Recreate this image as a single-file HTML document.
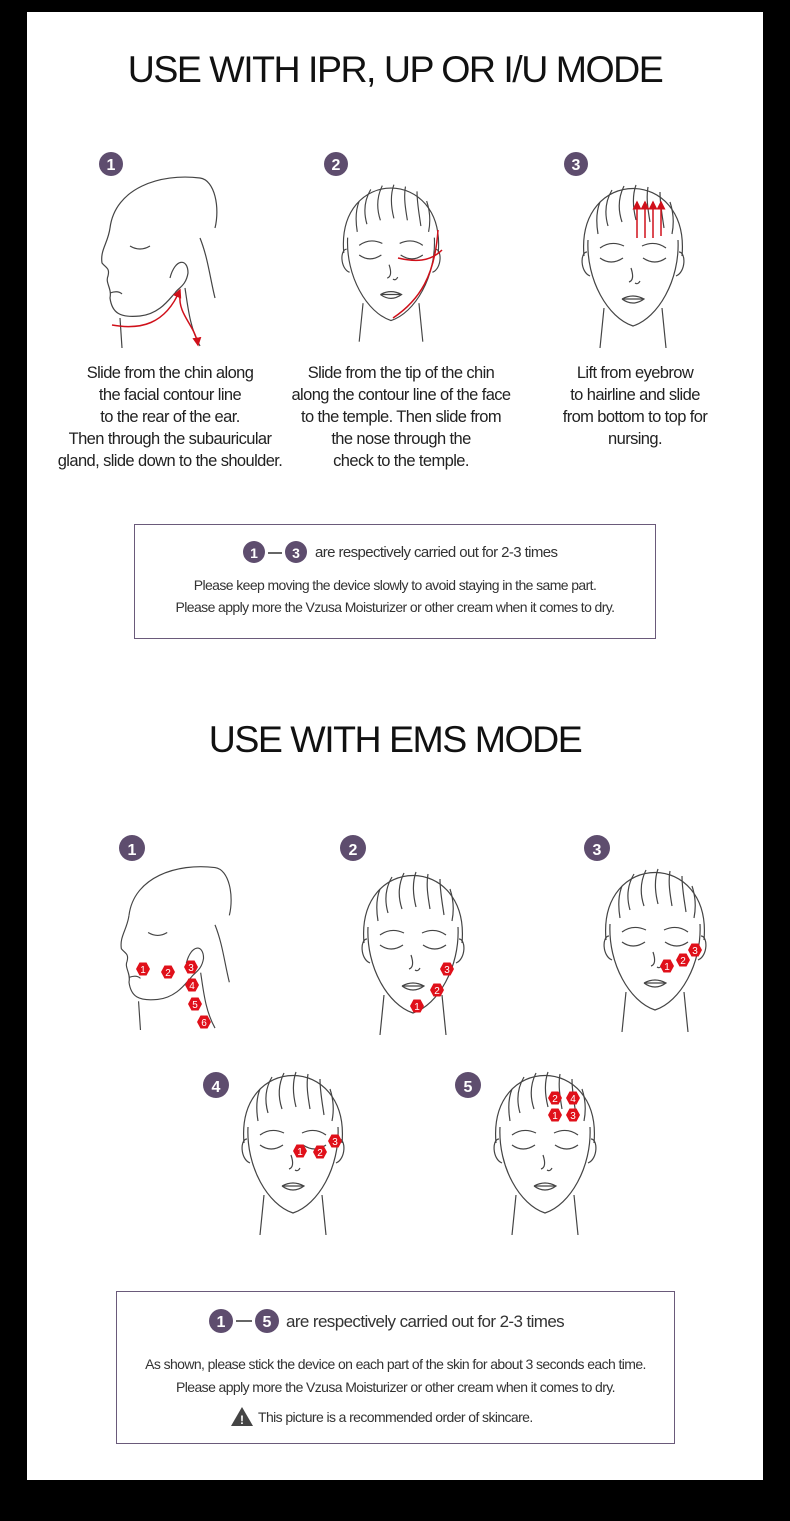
<!DOCTYPE html>
<html><head><meta charset="utf-8"><style>
body{margin:0;background:#000;width:790px;height:1521px;overflow:hidden;font-family:"Liberation Sans",sans-serif;}
#p{position:absolute;left:27px;top:12px;width:736px;height:1468px;background:#fff;}
.t{position:absolute;left:0;width:790px;text-align:center;color:#111;letter-spacing:-1.5px;font-size:37.5px;}
.c{position:absolute;text-align:center;font-size:16.5px;line-height:22px;color:#222;letter-spacing:-0.6px;width:280px;}
.box{position:absolute;border:1px solid #6a5a7a;text-align:center;color:#333;letter-spacing:-0.6px;}
svg{position:absolute;left:0;top:0}
</style></head><body>
<div id="p"></div>
<svg width="790" height="1521">
<defs>
<symbol id="face" viewBox="0 0 110 180" overflow="visible">
<g fill="none" stroke="#444" stroke-width="1.2">
<path d="M6,88 C-2,-2 112,-2 104,88"/>
<path d="M10,72 C8,112 30,150 55,158 C80,150 102,112 100,72"/>
<path d="M9,84 C2,84 2,104 12,108 M101,84 C108,84 108,104 98,108"/>
<path d="M26,140 L22,180 M84,140 L88,180"/>
<path d="M34,22 C28,32 26,44 30,58 M46,18 C40,30 40,42 44,54 M58,17 C54,28 55,40 58,52 M70,19 C68,30 70,42 72,54 M82,24 C82,36 84,46 86,60 M22,34 C18,44 18,54 20,66 M92,34 C96,46 96,56 94,66"/>
<path d="M22,90 Q33,98 45,90 M65,90 Q77,98 88,90"/>
<path d="M22,80 Q33,72 46,78 M64,78 Q77,72 88,80"/>
<path d="M53,100 Q57,112 51,114 M57,115 Q60,117 62,113"/>
<path d="M44,131 Q55,125 66,131 Q55,139 44,131 M44,131 L66,131"/>
</g>
</symbol>
<symbol id="prof" viewBox="0 0 130 180" overflow="visible">
<g fill="none" stroke="#444" stroke-width="1.2">
<path d="M20,60 C25,20 70,5 110,10 C125,12 130,40 125,60"/>
<path d="M20,60 C18,75 10,82 12,95 C16,100 20,100 18,108 C15,115 22,120 20,130 C22,145 30,150 50,148 C70,146 80,130 85,125"/>
<path d="M80,110 C85,90 98,90 98,105 C96,118 88,120 85,125"/>
<path d="M30,150 L32,180 M95,120 C98,140 100,160 110,178 M110,70 C118,90 120,110 125,130"/>
<path d="M40,78 Q50,84 60,78"/>
<path d="M20,125 Q28,122 32,126"/>
</g>
</symbol>
<g id="hx"><polygon points="-7,0 -3.5,-6.5 3.5,-6.5 7,0 3.5,6.5 -3.5,6.5" fill="#e0101a"/></g>
<marker id="ar" markerWidth="6" markerHeight="6" refX="5" refY="3" orient="auto"><path d="M0,0 L6,3 L0,6 z" fill="#d0101a"/></marker>
</defs>
<use href="#prof" x="90" y="168" width="130" height="180"/>
<use href="#face" x="338" y="165" width="106" height="180"/>
<use href="#face" x="578" y="168" width="110" height="180"/>
<g fill="none" stroke="#d0101a" stroke-width="1.5">
<path d="M112,325 C140,330 165,325 180,290" marker-end="url(#ar)"/>
<path d="M180,295 C178,315 195,325 198,345" marker-end="url(#ar)"/>
<path d="M393,318 C420,300 435,275 438,230"/>
<path d="M398,258 C415,262 430,262 442,250"/>
<path d="M637,238 L637,202" marker-end="url(#ar)"/><path d="M645,238 L645,202" marker-end="url(#ar)"/><path d="M653,238 L653,202" marker-end="url(#ar)"/><path d="M661,236 L661,202" marker-end="url(#ar)"/>
</g>
<g fill="#5e4d6e"><circle cx="111" cy="164" r="12"/><circle cx="336" cy="164" r="12"/><circle cx="576" cy="164" r="12"/>
<circle cx="132" cy="848" r="13"/><circle cx="353" cy="848" r="13"/><circle cx="597" cy="848" r="13"/><circle cx="216" cy="1085" r="13"/><circle cx="468" cy="1085" r="13"/>
<circle cx="254" cy="552" r="11"/><circle cx="296" cy="552" r="11"/><circle cx="221" cy="1321" r="12"/><circle cx="267" cy="1321" r="12"/></g>
<g fill="#fff" font-size="16" font-weight="bold" text-anchor="middle" font-family="Liberation Sans,sans-serif">
<text x="111" y="170">1</text><text x="336" y="170">2</text><text x="576" y="170">3</text>
<text x="132" y="855">1</text><text x="353" y="855">2</text><text x="597" y="855">3</text><text x="216" y="1092">4</text><text x="468" y="1092">5</text>
<text x="254" y="558" font-size="14">1</text><text x="296" y="558" font-size="14">3</text><text x="221" y="1327">1</text><text x="267" y="1327">5</text>
</g>
<g stroke="#333" stroke-width="1.5"><line x1="268" y1="553" x2="282" y2="553"/><line x1="236" y1="1321" x2="252" y2="1321"/></g>
<use href="#prof" x="108" y="858" width="128" height="172"/>
<use href="#face" x="358" y="855" width="110" height="180"/>
<use href="#face" x="600" y="852" width="110" height="180"/>
<use href="#face" x="238" y="1055" width="110" height="180"/>
<use href="#face" x="490" y="1055" width="110" height="180"/>
<g font-size="10" fill="#fff" text-anchor="middle" font-family="Liberation Sans,sans-serif">
<g transform="translate(143,969)"><use href="#hx"/><text y="4">1</text></g>
<g transform="translate(168,972)"><use href="#hx"/><text y="4">2</text></g>
<g transform="translate(191,967)"><use href="#hx"/><text y="4">3</text></g>
<g transform="translate(192,985)"><use href="#hx"/><text y="4">4</text></g>
<g transform="translate(195,1004)"><use href="#hx"/><text y="4">5</text></g>
<g transform="translate(204,1022)"><use href="#hx"/><text y="4">6</text></g>
<g transform="translate(447,969)"><use href="#hx"/><text y="4">3</text></g>
<g transform="translate(437,990)"><use href="#hx"/><text y="4">2</text></g>
<g transform="translate(417,1006)"><use href="#hx"/><text y="4">1</text></g>
<g transform="translate(667,966)"><use href="#hx"/><text y="4">1</text></g>
<g transform="translate(683,960)"><use href="#hx"/><text y="4">2</text></g>
<g transform="translate(695,950)"><use href="#hx"/><text y="4">3</text></g>
<g transform="translate(300,1151)"><use href="#hx"/><text y="4">1</text></g>
<g transform="translate(320,1152)"><use href="#hx"/><text y="4">2</text></g>
<g transform="translate(335,1141)"><use href="#hx"/><text y="4">3</text></g>
<g transform="translate(555,1098)"><use href="#hx"/><text y="4">2</text></g>
<g transform="translate(573,1098)"><use href="#hx"/><text y="4">4</text></g>
<g transform="translate(555,1115)"><use href="#hx"/><text y="4">1</text></g>
<g transform="translate(573,1115)"><use href="#hx"/><text y="4">3</text></g>
</g>
<polygon points="242,1407 231,1426 253,1426" fill="#444"/>
<text x="242" y="1424" font-size="12" fill="#fff" text-anchor="middle" font-weight="bold">!</text>
</svg>
<div class="t" style="top:48px">USE WITH IPR, UP OR I/U MODE</div>
<div class="t" style="top:718px">USE WITH EMS MODE</div>
<div class="c" style="left:30px;top:362px">Slide from the chin along<br>the facial contour line<br>to the rear of the ear.<br>Then through the subauricular<br>gland, slide down to the shoulder.</div>
<div class="c" style="left:261px;top:362px">Slide from the tip of the chin<br>along the contour line of the face<br>to the temple. Then slide from<br>the nose through the<br>check to the temple.</div>
<div class="c" style="left:495px;top:362px">Lift from eyebrow<br>to hairline and slide<br>from bottom to top for<br>nursing.</div>
<div class="box" style="left:134px;top:524px;width:520px;height:113px;">
<div style="position:absolute;left:180px;top:19px;font-size:15px;">are respectively carried out for 2-3 times</div>
<div style="position:absolute;left:0;width:520px;top:49px;font-size:14px;line-height:22px;">Please keep moving the device slowly to avoid staying in the same part.<br>Please apply more the Vzusa Moisturizer or other cream when it comes to dry.</div></div>
<div class="box" style="left:116px;top:1291px;width:557px;height:151px;">
<div style="position:absolute;left:169px;top:20px;font-size:17px;">are respectively carried out for 2-3 times</div>
<div style="position:absolute;left:0;width:557px;top:61px;font-size:14px;line-height:23px;">As shown, please stick the device on each part of the skin for about 3 seconds each time.<br>Please apply more the Vzusa Moisturizer or other cream when it comes to dry.</div>
<div style="position:absolute;left:141px;top:117px;font-size:14px;">This picture is a recommended order of skincare.</div></div>
</body></html>
